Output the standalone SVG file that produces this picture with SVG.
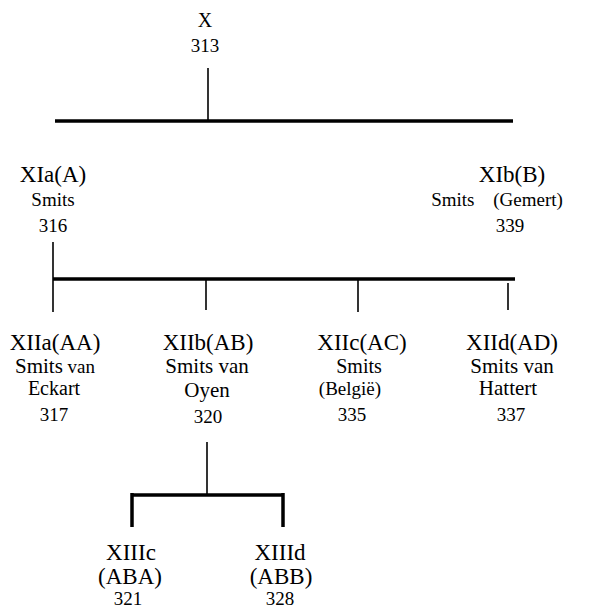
<svg xmlns="http://www.w3.org/2000/svg" width="589" height="609" viewBox="0 0 589 609">
<rect width="589" height="609" fill="#fff"/>
<g id="connectors" stroke="#000" fill="none">
<line stroke-width="1.6" x1="208" y1="68" x2="208" y2="120"/>
<line stroke-width="3.5" x1="55" y1="121" x2="513" y2="121"/>
<line stroke-width="1.6" x1="53" y1="242" x2="53" y2="312"/>
<line stroke-width="3.5" x1="53" y1="279" x2="515" y2="279"/>
<line stroke-width="1.6" x1="206" y1="279" x2="206" y2="310"/>
<line stroke-width="1.6" x1="358" y1="279" x2="358" y2="312"/>
<line stroke-width="1.6" x1="508" y1="283" x2="508" y2="310"/>
<line stroke-width="1.6" x1="207" y1="442" x2="207" y2="494"/>
<line stroke-width="3.5" x1="132" y1="495" x2="283" y2="495"/>
<line stroke-width="3.5" x1="132" y1="493" x2="132" y2="527"/>
<line stroke-width="3.5" x1="283" y1="493" x2="283" y2="527"/>
</g>
<g id="X">
<text font-family="Liberation Serif, serif" text-anchor="middle" font-size="20" x="205" y="27">X</text>
<text font-family="Liberation Serif, serif" text-anchor="middle" font-size="19" x="205" y="52">313</text>
</g>
<g id="XIa">
<text font-family="Liberation Serif, serif" text-anchor="middle" font-size="23" x="53" y="182">XIa(A)</text>
<text font-family="Liberation Serif, serif" text-anchor="middle" font-size="19" x="53" y="206">Smits</text>
<text font-family="Liberation Serif, serif" text-anchor="middle" font-size="19" x="53" y="232">316</text>
</g>
<g id="XIb">
<text font-family="Liberation Serif, serif" text-anchor="middle" font-size="23" x="512" y="182">XIb(B)</text>
<text font-family="Liberation Serif, serif" text-anchor="middle" font-size="19" x="497" y="206">Smits <tspan dx="14">(Gemert)</tspan></text>
<text font-family="Liberation Serif, serif" text-anchor="middle" font-size="19" x="510" y="232">339</text>
</g>
<g id="XIIa">
<text font-family="Liberation Serif, serif" text-anchor="middle" font-size="23" x="55" y="350">XIIa(AA)</text>
<text font-family="Liberation Serif, serif" text-anchor="middle" font-size="19" x="55" y="373"><tspan font-size="21">Smits</tspan> van</text>
<text font-family="Liberation Serif, serif" text-anchor="middle" font-size="20" x="54" y="395">Eckart</text>
<text font-family="Liberation Serif, serif" text-anchor="middle" font-size="19" x="54" y="421">317</text>
</g>
<g id="XIIb">
<text font-family="Liberation Serif, serif" text-anchor="middle" font-size="23" x="208" y="350">XIIb(AB)</text>
<text font-family="Liberation Serif, serif" text-anchor="middle" font-size="21" x="207" y="373">Smits van</text>
<text font-family="Liberation Serif, serif" text-anchor="middle" font-size="21" x="207" y="397">Oyen</text>
<text font-family="Liberation Serif, serif" text-anchor="middle" font-size="19" x="208" y="423">320</text>
</g>
<g id="XIIc">
<text font-family="Liberation Serif, serif" text-anchor="middle" font-size="23" x="362" y="350">XIIc(AC)</text>
<text font-family="Liberation Serif, serif" text-anchor="middle" font-size="20" x="359" y="373">Smits</text>
<text font-family="Liberation Serif, serif" text-anchor="middle" font-size="19" x="350" y="395">(België)</text>
<text font-family="Liberation Serif, serif" text-anchor="middle" font-size="19" x="352" y="421">335</text>
</g>
<g id="XIId">
<text font-family="Liberation Serif, serif" text-anchor="middle" font-size="23" x="512" y="350">XIId(AD)</text>
<text font-family="Liberation Serif, serif" text-anchor="middle" font-size="21" x="512" y="373">Smits van</text>
<text font-family="Liberation Serif, serif" text-anchor="middle" font-size="21" x="508" y="395">Hattert</text>
<text font-family="Liberation Serif, serif" text-anchor="middle" font-size="19" x="511" y="421">337</text>
</g>
<g id="XIIIc">
<text font-family="Liberation Serif, serif" text-anchor="middle" font-size="23" x="131" y="560">XIIIc</text>
<text font-family="Liberation Serif, serif" text-anchor="middle" font-size="23" x="130" y="584">(ABA)</text>
<text font-family="Liberation Serif, serif" text-anchor="middle" font-size="19" x="128" y="605">321</text>
</g>
<g id="XIIId">
<text font-family="Liberation Serif, serif" text-anchor="middle" font-size="23" x="280" y="560">XIIId</text>
<text font-family="Liberation Serif, serif" text-anchor="middle" font-size="23" x="281" y="584">(ABB)</text>
<text font-family="Liberation Serif, serif" text-anchor="middle" font-size="19" x="280" y="605">328</text>
</g>
</svg>
